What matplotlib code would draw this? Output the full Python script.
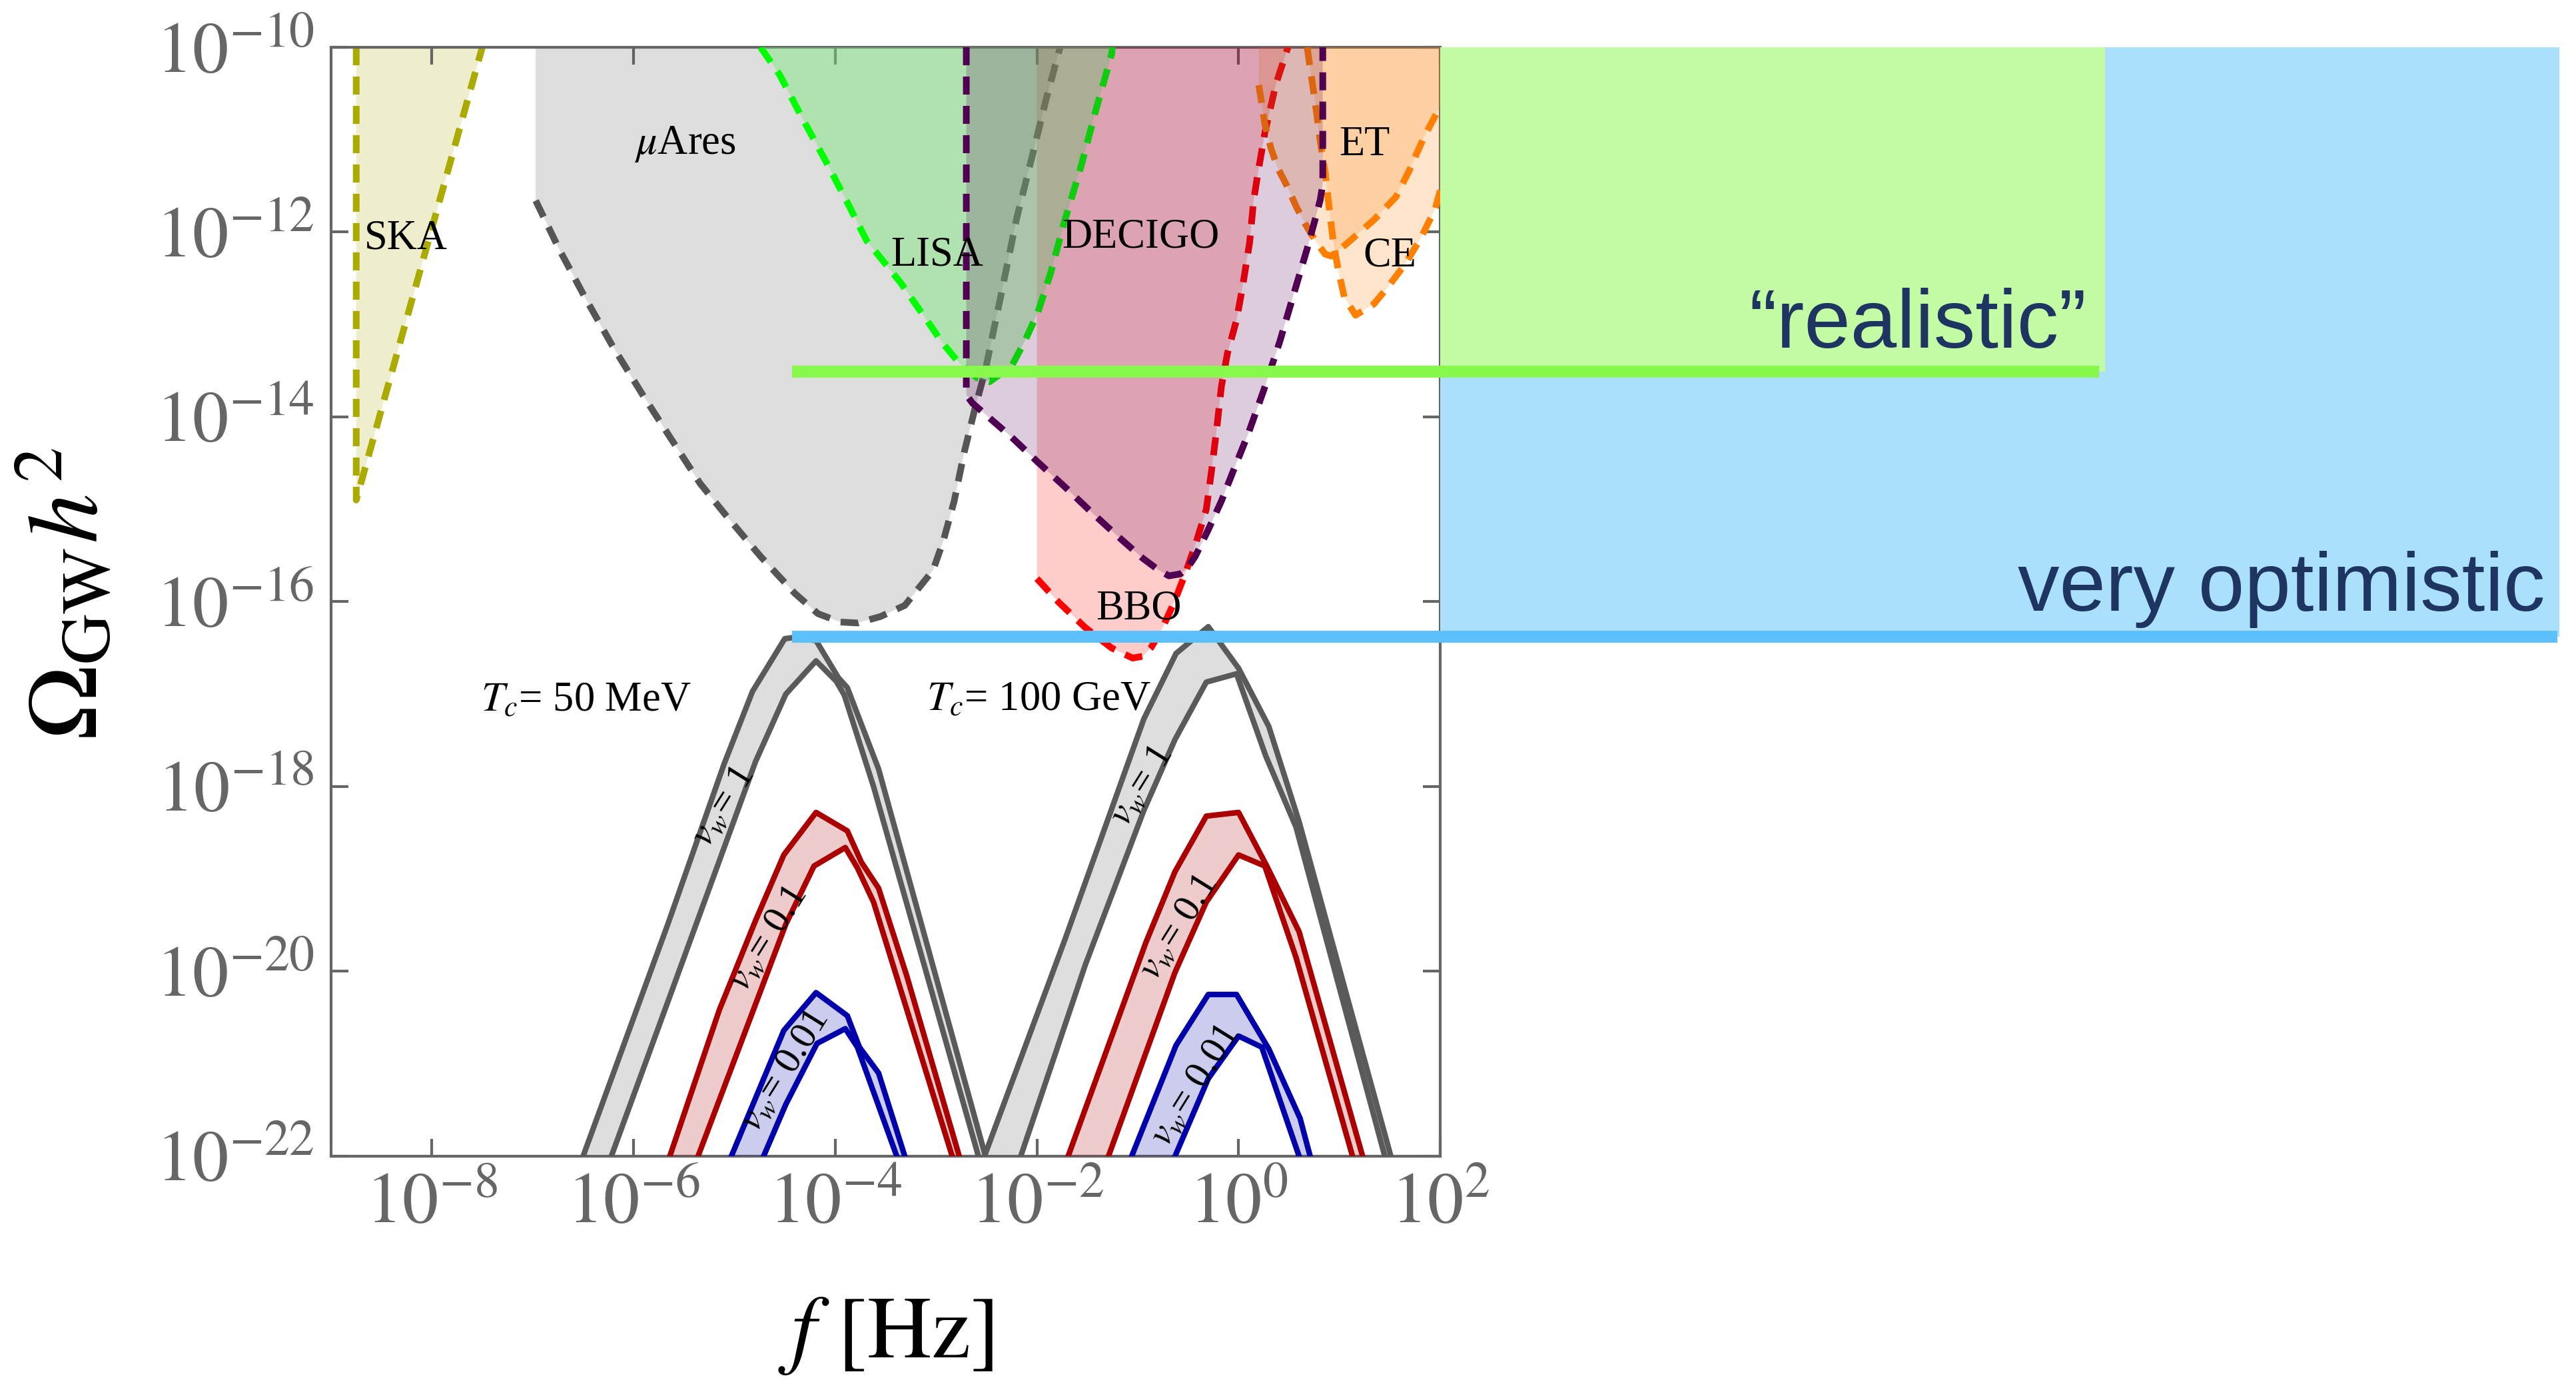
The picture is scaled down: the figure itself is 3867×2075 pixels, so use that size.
import numpy as np
import matplotlib.pyplot as plt

plt.rcParams['font.family'] = 'serif'
plt.rcParams['font.serif'] = ['Liberation Serif', 'DejaVu Serif']
plt.rcParams['mathtext.fontset'] = 'stix'

# all curves below are given as log10(f / Hz) and log10(Omega_GW h^2)

# --- detector sensitivity regions (dashed boundary) ---
ska_lf = [-8.75, -8.75, -7.50]
ska_lo = [-10.0, -14.90, -10.0]

mu_ares_lf = [-6.97, -6.74, -6.48, -6.21, -5.91, -5.65, -5.34, -5.08, -4.74, -4.40,
              -4.17, -3.95, -3.78, -3.55, -3.31, -3.03, -2.93, -2.82, -2.72, -2.61,
              -2.51, -2.35, -2.20, -2.04, -1.91, -1.77]
mu_ares_lo = [-11.66, -12.18, -12.71, -13.23, -13.76, -14.20, -14.72, -15.07, -15.51, -15.91,
              -16.13, -16.22, -16.23, -16.16, -16.04, -15.66, -15.35, -14.91, -14.38, -13.89,
              -13.49, -12.65, -11.85, -11.15, -10.57, -10.0]

lisa_lf = [-4.74, -4.55, -4.32, -4.10, -3.87, -3.69, -3.35, -3.03, -2.95, -2.77, -2.59,
           -2.47, -2.25, -2.12, -1.99, -1.86, -1.73, -1.57, -1.42, -1.26, -1.25]
lisa_lo = [-10.0, -10.30, -10.78, -11.22, -11.70, -12.09, -12.55, -13.05, -13.18, -13.42, -13.58,
           -13.62, -13.45, -13.18, -12.87, -12.43, -11.90, -11.32, -10.70, -10.08, -10.0]

decigo_lf = [-2.70, -2.70, -2.64, -2.25, -1.99, -1.73, -1.47, -1.21, -0.95, -0.79, -0.69,
             -0.58, -0.51, -0.43, -0.30, -0.17, -0.04, 0.09, 0.25, 0.41, 0.55, 0.68,
             0.77, 0.81, 0.835, 0.835]
decigo_lo = [-10.0, -13.76, -13.85, -14.22, -14.49, -14.75, -15.02, -15.28, -15.53, -15.66, -15.72,
             -15.70, -15.64, -15.51, -15.22, -14.91, -14.55, -14.20, -13.71, -13.18, -12.66, -12.18,
             -11.82, -11.65, -11.48, -10.0]

bbo_lf = [-2.00, -1.78, -1.52, -1.26, -1.05, -0.95, -0.87, -0.77, -0.64, -0.53, -0.43,
          -0.32, -0.27, -0.22, -0.17, -0.11, -0.02, 0.04, 0.11, 0.15, 0.20, 0.26, 0.37, 0.49]
bbo_lo = [-15.75, -16.01, -16.28, -16.50, -16.61, -16.59, -16.50, -16.32, -16.01, -15.70, -15.39,
          -15.00, -14.60, -14.16, -13.67, -13.31, -12.95, -12.59, -12.11, -11.65, -11.31, -10.93,
          -10.40, -10.0]

et_lf = [0.20, 0.23, 0.26, 0.32, 0.39, 0.48, 0.57, 0.66, 0.77, 0.86, 0.92, 0.96,
         1.12, 1.34, 1.56, 1.69, 1.84, 1.99, 2.0]
et_lo = [-10.41, -10.61, -10.83, -11.09, -11.31, -11.50, -11.72, -11.91, -12.11, -12.24, -12.26, -12.23,
         -12.08, -11.87, -11.62, -11.34, -10.97, -10.66, -10.63]

ce_lf = [0.68, 0.72, 0.77, 0.81, 0.86, 0.90, 0.94, 0.99, 1.05, 1.16, 1.34, 1.47,
         1.65, 1.80, 1.95, 2.0]
ce_lo = [-10.0, -10.30, -10.68, -11.02, -11.36, -11.75, -12.11, -12.42, -12.71, -12.90, -12.78, -12.61,
         -12.35, -12.08, -11.75, -11.55]

# --- sound-wave spectra, upper and lower edge of each band ---
# T_c = 50 MeV
g50_up_lf = [-6.50, -5.66, -5.10, -4.82, -4.50, -4.43, -4.19, -3.97, -3.88, -3.57, -2.51]
g50_up_lo = [-22.0, -19.49, -17.75, -16.97, -16.40, -16.39, -16.42, -16.82, -16.93, -17.81, -22.0]
g50_dn_lf = [-6.22, -5.66, -4.79, -4.49, -4.19, -3.99, -3.91, -3.62, -2.58]
g50_dn_lo = [-22.0, -20.33, -17.73, -17.00, -16.64, -16.86, -17.01, -18.00, -22.0]

r50_up_lf = [-5.64, -5.15, -4.79, -4.51, -4.19, -3.88, -3.74, -3.57, -3.29, -2.77]
r50_up_lo = [-22.0, -20.42, -19.45, -18.74, -18.28, -18.48, -18.82, -19.10, -20.05, -22.0]
r50_dn_lf = [-5.36, -4.49, -4.21, -3.90, -3.78, -3.62, -2.84]
r50_dn_lo = [-22.0, -19.49, -18.86, -18.66, -18.88, -19.25, -22.0]

b50_up_lf = [-5.03, -4.51, -4.19, -3.88, -3.76, -3.57, -3.31]
b50_up_lo = [-22.0, -20.64, -20.23, -20.48, -20.82, -21.10, -22.0]
b50_dn_lf = [-4.71, -4.49, -4.18, -3.90, -3.78, -3.39]
b50_dn_lo = [-22.0, -21.44, -20.78, -20.62, -20.82, -22.0]

# T_c = 100 GeV
g100_up_lf = [-2.52, -1.72, -0.94, -0.62, -0.30, 0.00, 0.30, 0.60, 1.51]
g100_up_lo = [-22.0, -19.65, -17.27, -16.56, -16.27, -16.72, -17.35, -18.38, -22.0]
g100_dn_lf = [-2.16, -1.52, -0.94, -0.63, -0.32, -0.02, 0.27, 0.57, 1.45]
g100_dn_lo = [-22.0, -19.93, -18.26, -17.49, -16.87, -16.78, -17.67, -18.44, -22.0]

r100_up_lf = [-1.69, -0.92, -0.63, -0.32, 0.00, 0.28, 0.60, 1.23]
r100_up_lo = [-22.0, -19.69, -18.92, -18.32, -18.28, -18.86, -19.57, -22.0]
r100_dn_lf = [-1.29, -0.63, -0.32, 0.00, 0.26, 0.57, 1.13]
r100_dn_lo = [-22.0, -20.01, -19.25, -18.74, -18.86, -19.85, -22.0]

b100_up_lf = [-1.06, -0.62, -0.30, -0.02, 0.30, 0.61, 0.71]
b100_up_lo = [-22.0, -20.80, -20.25, -20.25, -20.84, -21.59, -22.0]
b100_dn_lf = [-0.63, -0.30, 0.00, 0.23, 0.60]
b100_dn_lo = [-22.0, -21.16, -20.70, -20.82, -22.0]

# reach levels
realistic_lo = -13.51
optimistic_lo = -16.38
lines_start_lf = -4.43

x_tick_exp = [-8, -6, -4, -2, 0, 2]
y_tick_exp = [-22, -20, -18, -16, -14, -12, -10]

fig = plt.figure(figsize=(12.89, 6.9167), dpi=300)
ax = fig.add_axes([0.1285, 0.1634, 0.4306, 0.8024])
ax.set_xscale('log')
ax.set_yscale('log')


def sens(lf, lo, close_lf, line_c, fill_c, alpha, z):
    x = 10.0 ** np.array(lf)
    y = 10.0 ** np.array(lo)
    px = np.r_[x, 10.0 ** np.array(close_lf)]
    py = np.r_[y, np.full(len(close_lf), 1e-10)]
    ax.fill(px, py, color=fill_c, alpha=alpha, lw=0, zorder=z)
    ax.plot(x, y, color=line_c, lw=2.4, dashes=(2.7, 1.7), zorder=z + 0.5)


sens(ska_lf, ska_lo, [], '#aaaa00', '#aaaa00', 0.2, 1)
sens(mu_ares_lf, mu_ares_lo, [-6.97], '#555555', '#555555', 0.2, 2)
sens(bbo_lf, bbo_lo, [-2.0], '#ff0000', '#ff0000', 0.2, 3)
sens(lisa_lf, lisa_lo, [], '#00ff00', '#7ae97a', 0.45, 4)
sens(et_lf, et_lo, [2.0, 0.20], '#ff8000', '#ff8000', 0.2, 5)
sens(ce_lf, ce_lo, [2.0], '#ff8000', '#ff8000', 0.2, 6)
sens(decigo_lf, decigo_lo, [], '#500050', '#500050', 0.2, 7)


def band(up_lf, up_lo, dn_lf, dn_lo, c, z):
    ux, uy = 10.0 ** np.array(up_lf), 10.0 ** np.array(up_lo)
    dx, dy = 10.0 ** np.array(dn_lf), 10.0 ** np.array(dn_lo)
    ax.fill(np.r_[ux, dx[::-1]], np.r_[uy, dy[::-1]], color=c, alpha=0.2, lw=0, zorder=z)
    ax.plot(ux, uy, color=c, lw=2.0, zorder=z + 0.2)
    ax.plot(dx, dy, color=c, lw=2.0, zorder=z + 0.2)


band(g50_up_lf, g50_up_lo, g50_dn_lf, g50_dn_lo, '#5a5a5a', 10)
band(r50_up_lf, r50_up_lo, r50_dn_lf, r50_dn_lo, '#aa0000', 10.5)
band(b50_up_lf, b50_up_lo, b50_dn_lf, b50_dn_lo, '#0000aa', 11)
band(g100_up_lf, g100_up_lo, g100_dn_lf, g100_dn_lo, '#5a5a5a', 10)
band(r100_up_lf, r100_up_lo, r100_dn_lf, r100_dn_lo, '#aa0000', 10.5)
band(b100_up_lf, b100_up_lo, b100_dn_lf, b100_dn_lo, '#0000aa', 11)

# velocity labels inside the bands
vw_labels = [(-5.11, -18.22, r'$v_w$= 1'), (-4.66, -19.65, r'$v_w$= 0.1'),
             (-4.50, -21.08, r'$v_w$= 0.01'), (-0.96, -18.00, r'$v_w$= 1'),
             (-0.59, -19.53, r'$v_w$= 0.1'), (-0.43, -21.24, r'$v_w$= 0.01')]
for lf, lo, s in vw_labels:
    ax.text(10 ** lf, 10 ** lo, s, fontsize=14, rotation=58, ha='center', va='center',
            rotation_mode='anchor', zorder=14)

# detector names
det_labels = [(-8.667, -12.18, 'SKA'), (-5.993, -11.153, r'$\mu$Ares'),
              (-3.446, -12.36, 'LISA'), (-1.754, -12.163, 'DECIGO'),
              (-1.415, -16.191, 'BBO'), (0.997, -11.167, 'ET'), (1.238, -12.371, 'CE'),
              (-7.51, -17.18, r'$T_c$= 50 MeV'), (-3.095, -17.17, r'$T_c$= 100 GeV')]
for lf, lo, s in det_labels:
    ax.text(10 ** lf, 10 ** lo, s, fontsize=15, ha='left', va='baseline', zorder=16)

# reach boxes and lines to the right of the panel
navy = '#1e3461'
ax.fill([1e2, 10 ** 13.10, 10 ** 13.10, 1e2],
        [10 ** optimistic_lo, 10 ** optimistic_lo, 1e-10, 1e-10],
        color='#aae0fc', lw=0, clip_on=False, zorder=17)
ax.fill([1e2, 10 ** 8.59, 10 ** 8.59, 1e2],
        [10 ** realistic_lo, 10 ** realistic_lo, 1e-10, 1e-10],
        color='#c3fca4', lw=0, clip_on=False, zorder=18)
ax.plot([10 ** lines_start_lf, 10 ** 8.53], [10 ** realistic_lo] * 2, color='#88f84a',
        lw=4.3, solid_capstyle='butt', clip_on=False, zorder=20)
ax.plot([10 ** lines_start_lf, 10 ** 13.08], [10 ** optimistic_lo] * 2, color='#5bc0fb',
        lw=4.3, solid_capstyle='butt', clip_on=False, zorder=20)
ax.text(10 ** 8.41, 10 ** -13.25, '\u201crealistic\u201d', fontsize=30, family='Liberation Sans',
        color=navy, ha='right', va='baseline', zorder=25)
ax.text(10 ** 12.955, 10 ** -16.10, 'very optimistic', fontsize=30, family='Liberation Sans',
        color=navy, ha='right', va='baseline', zorder=25)

ax.set_xlim(1e-9, 1e2)
ax.set_ylim(1e-22, 1e-10)
ax.set_xticks([10.0 ** e for e in x_tick_exp])
ax.set_xticklabels([r'$10^{%d}$' % e for e in x_tick_exp])
ax.set_yticks([10.0 ** e for e in y_tick_exp])
ax.set_yticklabels([r'$10^{%d}$' % e for e in y_tick_exp])
ax.xaxis.set_minor_locator(plt.NullLocator())
ax.yaxis.set_minor_locator(plt.NullLocator())
ax.tick_params(direction='in', top=True, right=True, length=6.2, width=1,
               color='#666666', labelcolor='#666666', labelsize=26, pad=6)
for s in ax.spines.values():
    s.set_color('#666666')
    s.set_linewidth(1)

ax.set_xlabel(r'$f\ [\mathrm{Hz}]$', fontsize=32)
ax.xaxis.set_label_coords(0.5, -0.162)
ax.xaxis.label.set_va('center')
ax.set_ylabel(r'$\Omega_{\mathrm{GW}}h^2$', fontsize=36)
ax.yaxis.set_label_coords(-0.236, 0.507)
ax.yaxis.label.set_va('center')

fig.savefig('out.png', dpi=300)
